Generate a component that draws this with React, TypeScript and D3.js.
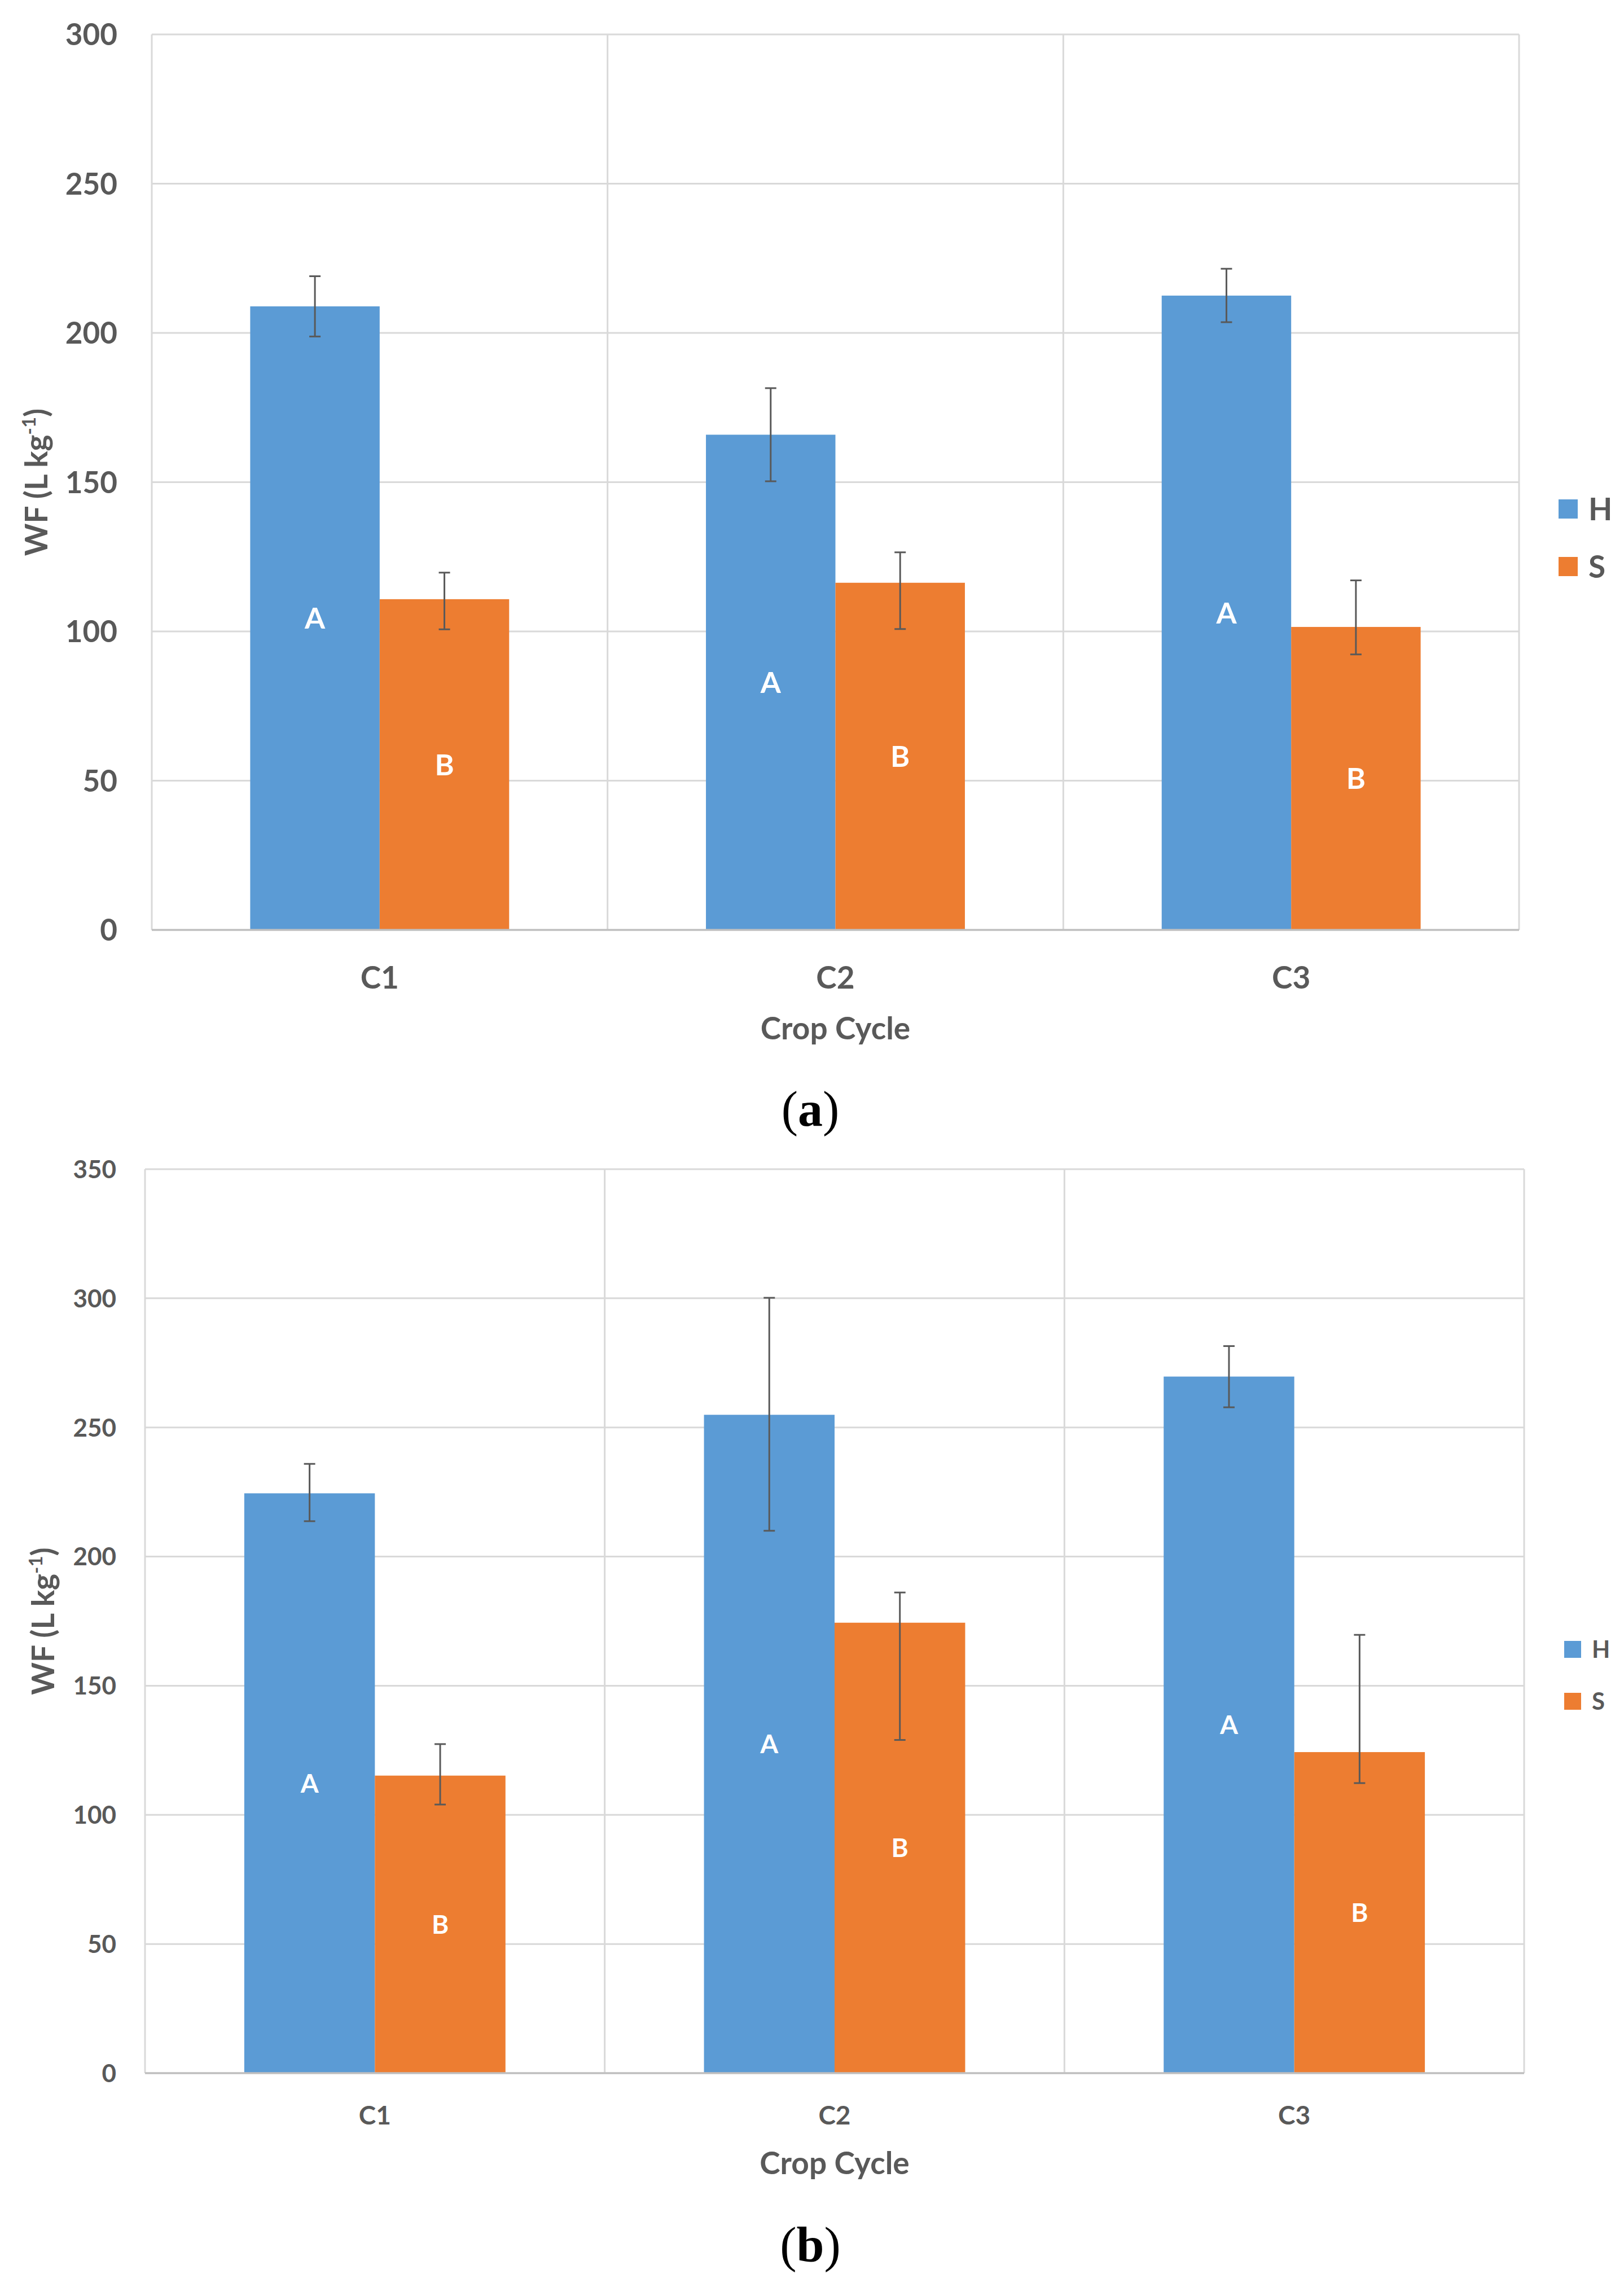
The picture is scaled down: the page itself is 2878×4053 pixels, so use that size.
import React from "react";
import * as d3 from "d3";

const categories = ["C1", "C2", "C3"];
const seriesNames = ["H", "S"];

// Panel (a)
const aH = [208.9, 165.9, 212.5];
const aHPlus = [10.1, 15.6, 9.0];
const aHMinus = [10.1, 15.6, 8.9];
const aS = [110.8, 116.3, 101.5];
const aSPlus = [8.9, 10.2, 15.6];
const aSMinus = [10.1, 15.5, 9.2];
const aTicks = [0, 50, 100, 150, 200, 250, 300];

// Panel (b)
const bH = [224.5, 254.9, 269.7];
const bHPlus = [11.4, 45.3, 11.8];
const bHMinus = [10.8, 44.9, 11.9];
const bS = [115.2, 174.4, 124.3];
const bSPlus = [12.2, 11.7, 45.4];
const bSMinus = [11.2, 45.4, 12.0];
const bTicks = [0, 50, 100, 150, 200, 250, 300, 350];

const hLetters = ["A", "A", "A"];
const sLetters = ["B", "B", "B"];

const COLORS = ["#5B9BD5", "#ED7D31"];
const TEXT = "#595959";
const FONT = "Lato, 'Open Sans', sans-serif";

type PanelProps = {
  left: number; top: number; right: number; bottom: number;
  ticks: number[];
  values: number[][];
  plus: number[][];
  minus: number[][];
  letters: string[][];
  tickSize: number; tickGap: number;
  catSize: number; catBaseline: number;
  titleSize: number; titleBaseline: number;
  yTitleX: number;
  letterSize: number;
  legendX: number; legendY: number; legendSq: number; legendStep: number; legendSize: number;
  caption: string; captionBaseline: number;
};

function Panel(p: PanelProps) {
  const maxT = p.ticks[p.ticks.length - 1];
  const y = d3.scaleLinear().domain([0, maxT]).range([p.bottom, p.top]);
  const x0 = d3.scaleBand<string>().domain(categories).range([p.left, p.right]).padding(0);
  const band = x0.bandwidth();
  const off = band * (1 - 2 / 3.52) / 2;
  const x1 = d3.scaleBand<string>().domain(seriesNames).range([off, band - off]).padding(0);
  const bw = x1.bandwidth();
  const cx = (p.left + p.right) / 2;
  const cy = (p.top + p.bottom) / 2;
  const boundaries = [p.left, ...categories.map((c) => (x0(c) as number) + band)];

  return (
    <g>
      {p.ticks.filter((t) => t > 0).map((t) => (
        <line key={"g" + t} x1={p.left} x2={p.right} y1={y(t)} y2={y(t)} stroke="#d9d9d9" strokeWidth={3} />
      ))}
      {boundaries.map((bx, i) => (
        <line key={"v" + i} x1={bx} x2={bx} y1={p.top} y2={p.bottom} stroke="#d9d9d9" strokeWidth={3} />
      ))}
      {seriesNames.map((s, si) =>
        categories.map((c, ci) => {
          const v = p.values[si][ci];
          const bx = (x0(c) as number) + (x1(s) as number);
          return (
            <rect key={s + c} x={bx} y={y(v)} width={bw} height={y(0) - y(v)} fill={COLORS[si]} />
          );
        })
      )}
      <line x1={p.left} x2={p.right} y1={y(0)} y2={y(0)} stroke="#bfbfbf" strokeWidth={3.5} />
      {seriesNames.map((s, si) =>
        categories.map((c, ci) => {
          const v = p.values[si][ci];
          const mx = (x0(c) as number) + (x1(s) as number) + bw / 2;
          const yt = y(v + p.plus[si][ci]);
          const yb = y(v - p.minus[si][ci]);
          return (
            <g key={"e" + s + c} stroke="#595959" strokeWidth={3}>
              <line x1={mx} x2={mx} y1={yt} y2={yb} />
              <line x1={mx - 10} x2={mx + 10} y1={yt} y2={yt} />
              <line x1={mx - 10} x2={mx + 10} y1={yb} y2={yb} />
            </g>
          );
        })
      )}
      {seriesNames.map((s, si) =>
        categories.map((c, ci) => {
          const v = p.values[si][ci];
          const mx = (x0(c) as number) + (x1(s) as number) + bw / 2;
          return (
            <text key={"l" + s + c} x={mx} y={y(v / 2) + p.letterSize * 0.36} textAnchor="middle"
              fill="#ffffff" fontFamily={FONT} fontWeight={700} fontSize={p.letterSize}>
              {p.letters[si][ci]}
            </text>
          );
        })
      )}
      {p.ticks.map((t) => (
        <text key={"t" + t} x={p.left - p.tickGap} y={y(t) + p.tickSize * 0.36} textAnchor="end"
          fill={TEXT} fontFamily={FONT} fontWeight={700} fontSize={p.tickSize}>
          {t}
        </text>
      ))}
      {categories.map((c) => (
        <text key={"c" + c} x={(x0(c) as number) + band / 2} y={p.catBaseline} textAnchor="middle"
          fill={TEXT} fontFamily={FONT} fontWeight={700} fontSize={p.catSize}>
          {c}
        </text>
      ))}
      <text x={cx} y={p.titleBaseline} textAnchor="middle" fill={TEXT} fontFamily={FONT}
        fontWeight={700} fontSize={p.titleSize}>
        Crop Cycle
      </text>
      <text transform={`translate(${p.yTitleX},${cy}) rotate(-90)`} textAnchor="middle" fill={TEXT}
        fontFamily={FONT} fontWeight={700} fontSize={p.titleSize}>
        WF (L kg
        <tspan dy={-p.titleSize * 0.38} fontSize={p.titleSize * 0.6}>-1</tspan>
        <tspan dy={p.titleSize * 0.38}>)</tspan>
      </text>
      {seriesNames.map((s, si) => (
        <g key={"lg" + s}>
          <rect x={p.legendX} y={p.legendY + si * p.legendStep} width={p.legendSq} height={p.legendSq} fill={COLORS[si]} />
          <text x={p.legendX + p.legendSq + 19} y={p.legendY + si * p.legendStep + p.legendSq / 2 + p.legendSize * 0.36}
            fill={TEXT} fontFamily={FONT} fontWeight={700} fontSize={p.legendSize}>
            {s}
          </text>
        </g>
      ))}
      <text x={1436} y={p.captionBaseline} textAnchor="middle" fill="#000000"
        fontFamily="'Liberation Serif', 'DejaVu Serif', serif" fontSize={88}>
        (<tspan fontWeight={700}>{p.caption}</tspan>)
      </text>
    </g>
  );
}

export default function App() {
  return (
    <svg width={2878} height={4053} viewBox="0 0 2878 4053"
      style={{ position: "absolute", left: 0, top: 0, background: "#ffffff" }}>
      <rect x={0} y={0} width={2878} height={4053} fill="#ffffff" />
      <Panel
        left={269} top={61} right={2692} bottom={1648}
        ticks={aTicks}
        values={[aH, aS]} plus={[aHPlus, aSPlus]} minus={[aHMinus, aSMinus]}
        letters={[hLetters, sLetters]}
        tickSize={53} tickGap={61}
        catSize={55} catBaseline={1752}
        titleSize={55} titleBaseline={1842}
        yTitleX={84}
        letterSize={52}
        legendX={2762} legendY={885} legendSq={34} legendStep={102} legendSize={55}
        caption="a" captionBaseline={1995}
      />
      <Panel
        left={257} top={2072} right={2701} bottom={3674}
        ticks={bTicks}
        values={[bH, bS]} plus={[bHPlus, bSPlus]} minus={[bHMinus, bSMinus]}
        letters={[hLetters, sLetters]}
        tickSize={44} tickGap={51}
        catSize={46} catBaseline={3765}
        titleSize={55} titleBaseline={3853}
        yTitleX={96}
        letterSize={46}
        legendX={2772} legendY={2908} legendSq={30} legendStep={92} legendSize={42}
        caption="b" captionBaseline={4008}
      />
    </svg>
  );
}
